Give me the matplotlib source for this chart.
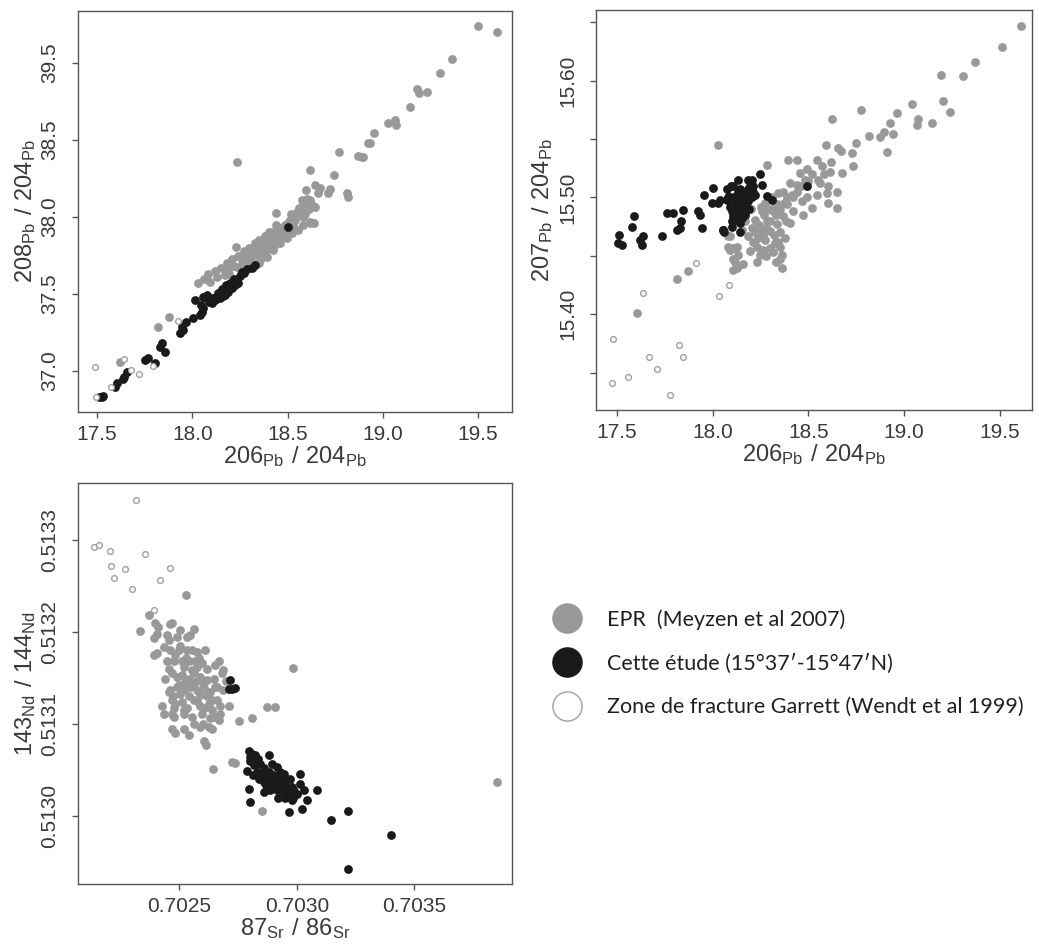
import numpy as np
import matplotlib.pyplot as plt
from matplotlib.lines import Line2D

plt.rcParams['font.family'] = ['Liberation Sans', 'DejaVu Sans']

# ---------- Panel 1 : 208Pb/204Pb vs 206Pb/204Pb ----------
p1_epr = [
    (19.502, 39.240), (19.598, 39.199), (19.362, 39.024), (19.300, 38.937), (19.178, 38.829),
    (19.192, 38.807), (19.231, 38.814), (19.140, 38.716), (19.029, 38.608), (19.064, 38.630),
    (19.070, 38.597), (18.951, 38.543), (18.924, 38.478), (18.932, 38.482), (18.770, 38.424),
    (18.872, 38.396), (18.889, 38.392), (18.898, 38.387), (18.233, 38.359), (18.618, 38.305),
    (18.746, 38.273), (18.597, 38.175), (18.644, 38.208), (18.671, 38.186), (18.662, 38.158),
    (18.723, 38.180), (18.714, 38.154), (18.811, 38.154), (18.819, 38.132), (18.574, 38.110),
    (18.583, 38.078), (18.566, 38.045), (18.557, 38.024), (18.644, 38.067), (18.618, 37.959),
    (18.438, 38.024), (18.230, 37.807), (17.875, 37.348), (17.821, 37.288), (17.621, 37.060),
    (18.093, 37.580), (18.128, 37.612), (18.172, 37.623), (18.189, 37.656), (18.233, 37.677),
    (18.260, 37.721), (18.303, 37.742), (18.320, 37.786), (18.356, 37.807), (18.381, 37.840),
    (18.408, 37.872), (18.434, 37.894), (18.461, 37.927), (18.487, 37.948), (18.514, 37.981),
    (18.548, 38.024), (18.575, 38.056), (18.601, 38.089), (18.618, 38.110), (18.356, 37.721),
    (18.391, 37.742), (18.426, 37.786), (18.461, 37.829), (18.496, 37.862), (18.522, 37.894),
    (18.557, 37.916), (18.583, 37.948), (18.618, 37.970), (18.636, 37.960), (18.320, 37.677),
    (18.286, 37.699), (18.03, 37.57), (18.06, 37.60), (18.08, 37.63), (18.12, 37.65),
    (18.15, 37.67), (18.18, 37.70), (18.21, 37.73), (18.24, 37.75), (18.25, 37.66),
    (18.27, 37.78), (18.29, 37.74), (18.30, 37.80), (18.31, 37.70), (18.33, 37.83),
    (18.34, 37.76), (18.35, 37.85), (18.37, 37.78), (18.38, 37.88), (18.40, 37.82),
    (18.42, 37.90), (18.44, 37.86), (18.45, 37.93), (18.47, 37.89), (18.50, 37.96),
    (18.52, 38.02), (18.54, 37.98), (18.56, 38.06), (18.59, 38.02), (18.60, 38.12),
    (18.19, 37.63), (18.22, 37.68), (18.26, 37.69), (18.28, 37.75), (18.31, 37.73),
    (18.33, 37.79), (18.36, 37.76), (18.37, 37.84), (18.39, 37.79), (18.41, 37.85),
    (18.43, 37.81), (18.46, 37.86), (18.48, 37.91), (18.49, 37.87), (18.51, 37.93),
    (18.53, 37.95), (18.55, 38.03), (18.58, 38.00), (18.61, 38.05), (18.63, 38.08),
    (18.35, 37.70), (18.30, 37.71), (18.40, 37.90), (18.44, 37.95),
]
p1_this = [
    (17.525, 36.833), (17.512, 36.833), (17.533, 36.838), (17.594, 36.898), (17.603, 36.924),
    (17.635, 36.946), (17.642, 36.963), (17.656, 36.995), (17.752, 37.071), (17.769, 37.082),
    (17.804, 37.054), (17.831, 37.158), (17.840, 37.180), (17.857, 37.125), (17.936, 37.245),
    (17.953, 37.266), (17.945, 37.288), (17.967, 37.320), (18.006, 37.342), (18.041, 37.364),
    (18.050, 37.385), (18.058, 37.407), (18.014, 37.461), (18.067, 37.482), (18.076, 37.494),
    (18.058, 37.483), (18.102, 37.440), (18.111, 37.472), (18.137, 37.505), (18.163, 37.526),
    (18.181, 37.547), (18.198, 37.569), (18.216, 37.580), (18.233, 37.591), (18.146, 37.472),
    (18.172, 37.494), (18.189, 37.515), (18.207, 37.537), (18.224, 37.558), (18.251, 37.617),
    (18.260, 37.645), (18.286, 37.660), (18.312, 37.667), (18.329, 37.688), (18.504, 37.933),
    (18.12, 37.46), (18.13, 37.49), (18.15, 37.51), (18.16, 37.49), (18.18, 37.52),
    (18.19, 37.55), (18.20, 37.54), (18.21, 37.56), (18.22, 37.60), (18.24, 37.57),
    (18.09, 37.45), (18.10, 37.47), (18.155, 37.535), (18.175, 37.56), (18.27, 37.64),
    (18.045, 37.43),
]
p1_garrett = [
    (17.490, 37.024), (17.642, 37.080), (17.678, 37.006), (17.720, 36.982), (17.572, 36.898),
    (17.493, 36.833), (17.792, 37.032), (17.927, 37.327),
]

# ---------- Panel 2 : 207Pb/204Pb vs 206Pb/204Pb ----------
p2_epr = [
    (19.610, 15.647), (19.509, 15.629), (19.369, 15.616), (19.190, 15.605), (19.308, 15.604),
    (19.204, 15.583), (19.239, 15.573), (19.039, 15.580), (18.774, 15.575), (18.624, 15.567),
    (18.960, 15.572), (18.926, 15.564), (19.074, 15.567), (19.065, 15.562), (19.147, 15.564),
    (18.818, 15.553), (18.873, 15.552), (18.894, 15.556), (18.939, 15.554), (18.668, 15.540),
    (18.029, 15.545), (17.812, 15.430), (17.872, 15.437), (17.606, 15.401),
    (18.281, 15.528), (18.394, 15.532), (18.441, 15.532), (18.542, 15.532), (18.591, 15.545),
    (18.656, 15.542), (18.725, 15.538), (18.748, 15.547), (18.908, 15.539), (18.730, 15.527),
    (18.673, 15.521), (18.612, 15.522), (18.569, 15.527), (18.494, 15.524), (18.455, 15.521),
    (18.403, 15.512), (18.368, 15.505), (18.438, 15.511), (18.499, 15.514), (18.560, 15.512),
    (18.595, 15.504), (18.647, 15.505), (18.542, 15.502), (18.490, 15.500), (18.603, 15.495),
    (18.647, 15.491), (18.516, 15.491), (18.464, 15.497), (18.412, 15.502), (18.342, 15.504),
    (18.308, 15.500), (18.273, 15.495), (18.334, 15.494), (18.386, 15.494), (18.421, 15.488),
    (18.473, 15.485), (18.368, 15.484), (18.316, 15.488), (18.255, 15.488), (18.220, 15.481),
    (18.281, 15.480), (18.334, 15.477), (18.403, 15.478), (18.203, 15.474), (18.255, 15.472),
    (18.299, 15.471), (18.351, 15.470), (18.168, 15.480), (18.151, 15.472), (18.186, 15.467),
    (18.238, 15.465), (18.273, 15.464), (18.325, 15.461), (18.377, 15.465), (18.229, 15.458),
    (18.299, 15.457), (18.351, 15.458), (18.090, 15.467), (18.081, 15.458), (18.116, 15.457),
    (18.133, 15.451), (18.194, 15.454), (18.247, 15.451), (18.316, 15.453), (18.360, 15.451),
    (18.351, 15.447), (18.107, 15.447), (18.125, 15.440), (18.160, 15.443), (18.081, 15.467),
    (18.090, 15.455), (18.107, 15.457), (18.125, 15.458), (18.116, 15.445), (18.107, 15.438),
    (18.22, 15.470), (18.24, 15.476), (18.26, 15.468), (18.28, 15.474), (18.30, 15.480),
    (18.32, 15.468), (18.27, 15.485), (18.25, 15.492), (18.29, 15.490), (18.31, 15.490),
    (18.33, 15.485), (18.35, 15.490), (18.37, 15.495), (18.39, 15.500), (18.42, 15.500),
    (18.44, 15.505), (18.46, 15.510), (18.48, 15.515), (18.52, 15.520), (18.55, 15.515),
    (18.58, 15.520), (18.62, 15.530), (18.60, 15.510), (18.21, 15.462), (18.26, 15.455),
    (18.34, 15.462), (18.23, 15.445), (18.28, 15.450), (18.33, 15.445), (18.36, 15.440),
    (18.20, 15.490), (18.38, 15.480),
]
p2_this = [
    (17.512, 15.468), (17.507, 15.461), (17.525, 15.459), (17.589, 15.484), (17.580, 15.475),
    (17.634, 15.467), (17.620, 15.464), (17.629, 15.459), (17.733, 15.467), (17.760, 15.487),
    (17.791, 15.487), (17.843, 15.489), (17.833, 15.480), (17.815, 15.472), (17.829, 15.474),
    (17.921, 15.488), (17.933, 15.485), (17.942, 15.474), (17.954, 15.502), (18.003, 15.508),
    (17.994, 15.495), (18.029, 15.495), (18.038, 15.498), (18.052, 15.472), (18.060, 15.470),
    (18.094, 15.510), (18.076, 15.498), (18.055, 15.472), (18.072, 15.507), (18.081, 15.500),
    (18.090, 15.492), (18.107, 15.484), (18.125, 15.481), (18.142, 15.470), (18.151, 15.492),
    (18.160, 15.498), (18.177, 15.504), (18.194, 15.510), (18.203, 15.507), (18.220, 15.502),
    (18.107, 15.510), (18.125, 15.501), (18.142, 15.507), (18.168, 15.490), (18.099, 15.488),
    (18.116, 15.495), (18.186, 15.497), (18.203, 15.500), (18.247, 15.520), (18.255, 15.511),
    (18.281, 15.501), (18.308, 15.498), (18.490, 15.510), (18.133, 15.492), (18.142, 15.487),
    (18.160, 15.494), (18.177, 15.500), (18.133, 15.497), (18.116, 15.490), (18.151, 15.482),
    (18.099, 15.480), (18.168, 15.504), (18.186, 15.507), (18.212, 15.505), (18.160, 15.488),
    (18.125, 15.485), (18.11, 15.500), (18.13, 15.505), (18.15, 15.500), (18.17, 15.495),
    (18.19, 15.500), (18.21, 15.510), (18.12, 15.485), (18.14, 15.478), (18.10, 15.475),
    (18.17, 15.485), (18.19, 15.490), (18.205, 15.515), (18.185, 15.515), (18.13, 15.515),
    (18.09, 15.500),
]
p2_garrett = [
    (17.913, 15.444), (17.634, 15.418), (17.481, 15.379), (17.825, 15.374), (17.843, 15.363),
    (17.665, 15.363), (17.707, 15.353), (17.559, 15.346), (17.475, 15.341), (17.777, 15.331),
    (18.034, 15.416), (18.083, 15.425),
]

# ---------- Panel 3 : 143Nd/144Nd vs 87Sr/86Sr ----------
p3_epr = [
    (0.702530, 0.513240), (0.702370, 0.513219), (0.702982, 0.513161), (0.703850, 0.513037),
    (0.702724, 0.513059), (0.702642, 0.513051), (0.702854, 0.513005), (0.702756, 0.513103),
    (0.702809, 0.513106), (0.702873, 0.513118), (0.702908, 0.513119), (0.702738, 0.513058),
    (0.702398, 0.513210), (0.702408, 0.513206), (0.702462, 0.513209), (0.702469, 0.513210),
    (0.702504, 0.513202), (0.702561, 0.513203), (0.702331, 0.513201), (0.702391, 0.513193),
    (0.702405, 0.513198), (0.702448, 0.513197), (0.702455, 0.513191), (0.702490, 0.513195),
    (0.702533, 0.513195), (0.702547, 0.513197), (0.702391, 0.513175), (0.702405, 0.513177),
    (0.702433, 0.513184), (0.702462, 0.513180), (0.702497, 0.513180), (0.702533, 0.513180),
    (0.702554, 0.513181), (0.702575, 0.513178), (0.702610, 0.513180), (0.702667, 0.513169),
    (0.702448, 0.513168), (0.702476, 0.513169), (0.702511, 0.513169), (0.702540, 0.513169),
    (0.702568, 0.513168), (0.702596, 0.513166), (0.702618, 0.513160), (0.702653, 0.513164),
    (0.702688, 0.513159), (0.702441, 0.513149), (0.702469, 0.513155), (0.702490, 0.513151),
    (0.702511, 0.513153), (0.702540, 0.513149), (0.702561, 0.513155), (0.702589, 0.513151),
    (0.702618, 0.513148), (0.702646, 0.513149), (0.702681, 0.513155), (0.702462, 0.513137),
    (0.702490, 0.513140), (0.702518, 0.513137), (0.702547, 0.513140), (0.702575, 0.513137),
    (0.702603, 0.513139), (0.702632, 0.513135), (0.702660, 0.513140), (0.702688, 0.513137),
    (0.702426, 0.513120), (0.702469, 0.513126), (0.702483, 0.513122), (0.702511, 0.513124),
    (0.702561, 0.513126), (0.702589, 0.513120), (0.702625, 0.513122), (0.702660, 0.513126),
    (0.702674, 0.513120), (0.702710, 0.513120), (0.702469, 0.513111), (0.702476, 0.513108),
    (0.702518, 0.513111), (0.702554, 0.513108), (0.702596, 0.513111), (0.702632, 0.513106),
    (0.702653, 0.513108), (0.702674, 0.513111), (0.702667, 0.513104), (0.702469, 0.513095),
    (0.702483, 0.513090), (0.702518, 0.513095), (0.702540, 0.513088), (0.702589, 0.513097),
    (0.702625, 0.513097), (0.702639, 0.513095), (0.702606, 0.513082), (0.702615, 0.513077),
    (0.702518, 0.513162), (0.702554, 0.513159), (0.702575, 0.513162), (0.702525, 0.513146),
    (0.702568, 0.513146), (0.702504, 0.513133), (0.702589, 0.513131), (0.702476, 0.513117),
    (0.702533, 0.513117), (0.702603, 0.513117), (0.702639, 0.513126), (0.702433, 0.513111),
    (0.702561, 0.513100), (0.702455, 0.513160), (0.702480, 0.513175), (0.702505, 0.513185),
    (0.702530, 0.513172), (0.702560, 0.513158), (0.702585, 0.513172), (0.702600, 0.513145),
    (0.702620, 0.513130), (0.702575, 0.513125), (0.702540, 0.513130), (0.702500, 0.513142),
    (0.702475, 0.513130), (0.702455, 0.513135), (0.702520, 0.513115), (0.702600, 0.513100),
    (0.702640, 0.513115), (0.702650, 0.513140), (0.702700, 0.513147),
]
p3_this = [
    (0.702795, 0.513071), (0.702809, 0.513067), (0.702823, 0.513066), (0.702837, 0.513062),
    (0.702802, 0.513060), (0.702788, 0.513049), (0.702816, 0.513055), (0.702844, 0.513057),
    (0.702880, 0.513066), (0.702894, 0.513057), (0.702915, 0.513053), (0.702929, 0.513048),
    (0.702852, 0.513046), (0.702873, 0.513042), (0.702901, 0.513040), (0.702929, 0.513038),
    (0.702951, 0.513035), (0.702972, 0.513040), (0.702979, 0.513031), (0.703014, 0.513046),
    (0.703014, 0.513035), (0.703029, 0.513028), (0.703043, 0.513017), (0.703022, 0.513008),
    (0.702965, 0.513004), (0.703085, 0.513028), (0.702795, 0.513029), (0.702802, 0.513015),
    (0.702859, 0.513026), (0.702887, 0.513028), (0.702915, 0.513028), (0.702944, 0.513024),
    (0.702965, 0.513022), (0.702986, 0.513020), (0.702915, 0.513035), (0.702887, 0.513035),
    (0.702859, 0.513037), (0.702830, 0.513048), (0.702944, 0.513046), (0.702979, 0.513017),
    (0.703217, 0.513005), (0.703146, 0.512996), (0.703401, 0.512979), (0.703217, 0.512942),
    (0.702714, 0.513148), (0.702710, 0.513138), (0.702724, 0.513138), (0.702738, 0.513139),
    (0.702800, 0.513064), (0.702830, 0.513058), (0.702860, 0.513052), (0.702880, 0.513048),
    (0.702900, 0.513045), (0.702920, 0.513042), (0.702940, 0.513038), (0.702960, 0.513030),
    (0.702990, 0.513027), (0.703000, 0.513024), (0.702870, 0.513034), (0.702900, 0.513030),
    (0.702930, 0.513032), (0.702950, 0.513019), (0.702920, 0.513020), (0.702840, 0.513040),
    (0.702815, 0.513045),
]
p3_garrett = [
    (0.702317, 0.513344), (0.702136, 0.513292), (0.702157, 0.513295), (0.702207, 0.513288),
    (0.702211, 0.513272), (0.702221, 0.513259), (0.702268, 0.513268), (0.702299, 0.513247),
    (0.702353, 0.513285), (0.702416, 0.513257), (0.702459, 0.513270), (0.702391, 0.513224),
]

legend_labels = [
    'EPR  (Meyzen et al 2007)',
    'Cette étude (15°37′-15°47′N)',
    'Zone de fracture Garrett (Wendt et al 1999)',
]

GREY = '#999999'
BLACK = '#1a1a1a'
OPEN = '#a0a0a0'
FRAME = '#555555'
TXT = '#3a3a3a'

fig = plt.figure(figsize=(10.39, 9.52), dpi=100)


def panel(rect, epr, this, garrett, xlim, ylim, xticks, xlabels, yticks, ylabels, xlabel, ylabel):
    ax = fig.add_axes(rect)
    e = np.array(epr)
    t = np.array(this)
    g = np.array(garrett)
    ax.scatter(e[:, 0], e[:, 1], s=40, color=GREY, linewidths=0, zorder=2)
    ax.scatter(t[:, 0], t[:, 1], s=40, color=BLACK, linewidths=0, zorder=3)
    ax.scatter(g[:, 0], g[:, 1], s=17, facecolors='white', edgecolors=OPEN, linewidths=1.0, zorder=4)
    ax.set_xlim(*xlim)
    ax.set_ylim(*ylim)
    ax.set_xticks(xticks, xlabels)
    ax.set_yticks(yticks, ylabels, rotation=90, va='center')
    for sp in ax.spines.values():
        sp.set_color(FRAME)
        sp.set_linewidth(1.0)
    ax.tick_params(axis='both', length=4.5, width=1.0, color=FRAME, labelsize=15, labelcolor=TXT)
    ax.tick_params(axis='x', pad=5)
    ax.tick_params(axis='y', pad=9)
    ax.set_xlabel(xlabel, fontsize=17, color=TXT, labelpad=0)
    ax.set_ylabel(ylabel, fontsize=17, color=TXT, labelpad=2)
    return ax


pb_x = r'$\mathregular{206_{Pb}\ /\ 204_{Pb}}$'

panel([0.0751, 0.5672, 0.4177, 0.4212], p1_epr, p1_this, p1_garrett,
      (17.40, 19.678), (36.734, 39.338),
      [17.5, 18.0, 18.5, 19.0, 19.5], ['17.5', '18.0', '18.5', '19.0', '19.5'],
      [37.0, 37.5, 38.0, 38.5, 39.0], ['37.0', '37.5', '38.0', '38.5', '39.5'],
      pb_x, r'$\mathregular{208_{Pb}\ /\ 204_{Pb}}$')

panel([0.5736, 0.5693, 0.4196, 0.4202], p2_epr, p2_this, p2_garrett,
      (17.390, 19.667), (15.318, 15.6605),
      [17.5, 18.0, 18.5, 19.0, 19.5], ['17.5', '18.0', '18.5', '19.0', '19.5'],
      [15.35, 15.40, 15.45, 15.50, 15.55, 15.60, 15.65], ['', '15.40', '', '15.50', '', '15.60', ''],
      pb_x, r'$\mathregular{207_{Pb}\ /\ 204_{Pb}}$')

panel([0.0751, 0.0714, 0.4177, 0.4212], p3_epr, p3_this, p3_garrett,
      (0.702069, 0.703916), (0.512926, 0.513362),
      [0.7025, 0.7030, 0.7035], ['0.7025', '0.7030', '0.7035'],
      [0.5130, 0.5131, 0.5132, 0.5133], ['0.5130', '0.5131', '0.5132', '0.5133'],
      r'$\mathregular{87_{Sr}\ /\ 86_{Sr}}$', r'$\mathregular{143_{Nd}\ /\ 144_{Nd}}$')

handles = [
    Line2D([], [], ls='none', marker='o', markersize=21, markerfacecolor=GREY, markeredgecolor=GREY),
    Line2D([], [], ls='none', marker='o', markersize=21, markerfacecolor=BLACK, markeredgecolor=BLACK),
    Line2D([], [], ls='none', marker='o', markersize=21, markerfacecolor='white',
           markeredgecolor=OPEN, markeredgewidth=1.0),
]
fig.legend(handles, legend_labels, loc='upper left', bbox_to_anchor=(552 / 1039, 1 - 609 / 952),
           frameon=False, borderpad=0, borderaxespad=0, handlelength=1.4, handletextpad=1.15,
           labelspacing=1.1, prop={'family': 'Lato', 'size': 15.5}, labelcolor='#231f20')

fig.savefig('out.png', dpi=100)
